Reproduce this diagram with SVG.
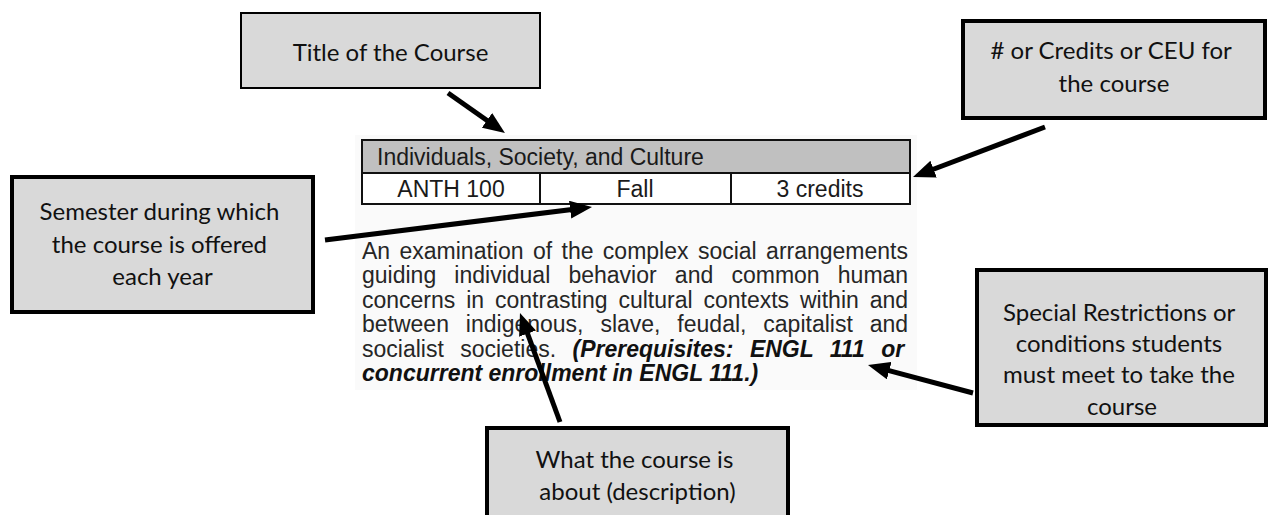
<svg xmlns="http://www.w3.org/2000/svg" width="1268" height="515" viewBox="0 0 1268 515">
<style>
.callout{fill:#d9d9d9;stroke:#000;stroke-width:4}
.ct{font-family:Lato,"Open Sans",sans-serif;font-size:24px;fill:#111;text-anchor:middle}
.tbl{font-family:"Liberation Sans",Arial,sans-serif;font-size:23px;fill:#1a1a1a}
.desc{font-family:"Liberation Sans",Arial,sans-serif;font-size:23px;fill:#262626}
.bi{font-weight:bold;font-style:italic;fill:#111}
.conn{stroke:#000;stroke-width:5;fill:none;marker-end:url(#ah)}
</style>
<defs>
<marker id="ah" markerUnits="userSpaceOnUse" markerWidth="22" markerHeight="18" viewBox="0 0 22 18" refX="8" refY="9" orient="auto">
<path d="M0,0 L22,9 L0,18 z" fill="#000"/>
</marker>
</defs>
<rect x="0" y="0" width="1268" height="515" fill="#fff"/>
<g id="catalog">
<rect x="355" y="135" width="562" height="255" fill="#fafafa"/>
<rect x="362" y="140" width="548" height="33" fill="#c0c0c0" stroke="#111" stroke-width="2"/>
<rect x="362" y="173" width="548" height="31" fill="#fff" stroke="#111" stroke-width="2"/>
<line x1="540" y1="173" x2="540" y2="204" stroke="#111" stroke-width="2"/>
<line x1="731" y1="173" x2="731" y2="204" stroke="#111" stroke-width="2"/>
<text class="tbl" x="377" y="165">Individuals, Society, and Culture</text>
<text class="tbl" x="451" y="197" text-anchor="middle">ANTH 100</text>
<text class="tbl" x="635" y="197" text-anchor="middle">Fall</text>
<text class="tbl" x="820" y="197" text-anchor="middle">3 credits</text>
<text class="desc" x="362" y="258.5" word-spacing="3">An examination of the complex social arrangements</text>
<text class="desc" x="362" y="283" word-spacing="11.8">guiding individual behavior and common human</text>
<text class="desc" x="362" y="307.5" word-spacing="4.5">concerns in contrasting cultural contexts within and</text>
<text class="desc" x="362" y="332" word-spacing="10.5">between indigenous, slave, feudal, capitalist and</text>
<text class="desc" x="362" y="356.5" word-spacing="10">socialist societies. <tspan class="bi">(Prerequisites: ENGL 111 or</tspan></text>
<text class="desc bi" x="362" y="381">concurrent enrollment in ENGL 111.)</text>
</g>
<g id="title-box">
<rect class="callout" x="241" y="13" width="299" height="75" style="stroke-width:2"/>
<text class="ct" x="390.5" y="61">Title of the Course</text>
</g>
<g id="credits-box">
<rect class="callout" x="963" y="21" width="302" height="97"/>
<text class="ct" x="1114" y="59">
<tspan x="1114" y="59"># or Credits or CEU for</tspan>
<tspan x="1114" y="92">the course</tspan>
</text>
</g>
<g id="semester-box">
<rect class="callout" x="12" y="177" width="301" height="135"/>
<text class="ct">
<tspan x="162.5" y="220">Semester during which</tspan>
<tspan x="162.5" y="253">the course is offered</tspan>
<tspan x="162.5" y="285">each year</tspan>
</text>
</g>
<g id="special-box">
<rect class="callout" x="977" y="270" width="289" height="155"/>
<text class="ct">
<tspan x="1122" y="321">Special Restrictions or</tspan>
<tspan x="1122" y="352">conditions students</tspan>
<tspan x="1122" y="383">must meet to take the</tspan>
<tspan x="1122" y="415">course</tspan>
</text>
</g>
<g id="what-box">
<rect class="callout" x="487" y="428" width="301" height="100"/>
<text class="ct">
<tspan x="637.5" y="468">What the course is</tspan>
<tspan x="637.5" y="500">about (description)</tspan>
</text>
</g>
<g id="connectors">
<line class="conn" x1="448" y1="93" x2="493.5" y2="125"/>
<line class="conn" x1="1045" y1="127" x2="926.1" y2="172"/>
<line class="conn" x1="325" y1="240" x2="578.1" y2="208.7"/>
<line class="conn" x1="560" y1="422" x2="524.8" y2="326.1"/>
<line class="conn" x1="973" y1="393" x2="881.5" y2="368.6"/>
</g>
</svg>
